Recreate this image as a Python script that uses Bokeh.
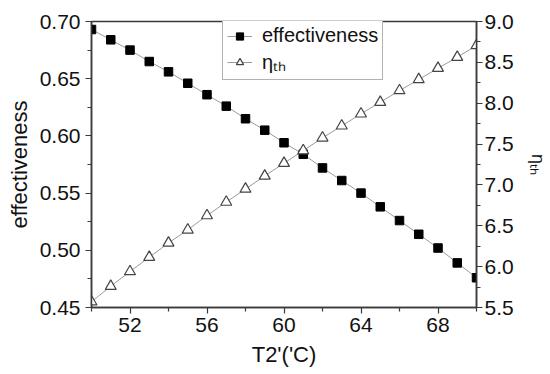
from bokeh.plotting import figure
from bokeh.models import Range1d, LinearAxis, FixedTicker, Legend, LegendItem
from bokeh.embed import file_html
from bokeh.resources import INLINE

# ---- data ----
temps = [50, 51, 52, 53, 54, 55, 56, 57, 58, 59, 60,
         61, 62, 63, 64, 65, 66, 67, 68, 69, 70]
effectiveness = [0.693, 0.684, 0.675, 0.665, 0.656, 0.646, 0.636, 0.626, 0.615, 0.605, 0.594,
                 0.584, 0.572, 0.561, 0.550, 0.538, 0.526, 0.514, 0.502, 0.489, 0.476]
eta_th = [5.57, 5.76, 5.94, 6.115, 6.29, 6.45, 6.625, 6.79, 6.95, 7.11, 7.266,
          7.42, 7.576, 7.723, 7.87, 8.012, 8.155, 8.29, 8.428, 8.563, 8.706]
x_major = [52, 56, 60, 64, 68]
x_minor = [50, 54, 58, 62, 66, 70]
y_left_major = [0.45, 0.50, 0.55, 0.60, 0.65, 0.70]
y_left_minor = [0.475, 0.525, 0.575, 0.625, 0.675]
y_right_major = [5.5, 6.0, 6.5, 7.0, 7.5, 8.0, 8.5, 9.0]
y_right_minor = [5.75, 6.25, 6.75, 7.25, 7.75, 8.25, 8.75]

FONT = "Liberation Sans"
AX = "#3a3a3a"

p = figure(width=550, height=374, output_backend="svg", toolbar_location=None,
           x_range=Range1d(50, 70), y_range=Range1d(0.45, 0.70),
           min_border_left=91, min_border_right=71, min_border_top=21, min_border_bottom=67)
p.extra_y_ranges = {"eta": Range1d(5.5, 9.0)}
p.xgrid.visible = False
p.ygrid.visible = False
p.outline_line_color = AX
p.outline_line_width = 1.5
p.background_fill_color = "white"
p.border_fill_color = "white"

def style_axis(ax, major, minor):
    ax.ticker = FixedTicker(ticks=major, minor_ticks=minor)
    ax.axis_line_color = AX
    ax.axis_line_width = 1.5
    ax.major_tick_line_color = AX
    ax.minor_tick_line_color = AX
    ax.major_tick_line_width = 1.2
    ax.minor_tick_line_width = 1.2
    ax.major_tick_in = 0
    ax.major_tick_out = 6
    ax.minor_tick_in = 0
    ax.minor_tick_out = 4
    ax.major_label_text_font = FONT
    ax.major_label_text_font_size = "21px"
    ax.major_label_text_color = "#111111"
    ax.axis_label_text_font = FONT
    ax.axis_label_text_font_style = "normal"
    ax.axis_label_text_color = "#111111"

xa = p.xaxis[0]
style_axis(xa, x_major, x_minor)
xa.axis_label = "T2'('C)"
xa.axis_label_text_font_size = "22px"
xa.axis_label_standoff = 7
xa.major_label_standoff = 4
xa.major_label_overrides = {t: str(t) for t in x_major}

ya = p.yaxis[0]
style_axis(ya, y_left_major, y_left_minor)
ya.axis_label = "effectiveness"
ya.axis_label_text_font_size = "22px"
ya.axis_label_standoff = 5
ya.major_label_standoff = 5
ya.major_label_overrides = {t: f"{t:.2f}" for t in y_left_major}

ra = LinearAxis(y_range_name="eta")
style_axis(ra, y_right_major, y_right_minor)
ra.axis_label = "ηₜₕ"
ra.axis_label_text_font_size = "18px"
ra.axis_label_standoff = 11
ra.major_label_standoff = 2
ra.major_label_overrides = {t: f"{t:.1f}" for t in y_right_major}
p.add_layout(ra, "right")

# effectiveness series
l1 = p.line(temps, effectiveness, line_color="#9a9a9a", line_width=1)
s1 = p.scatter(temps, effectiveness, marker="square", size=8.5,
               fill_color="black", line_color="black")
# eta series
l2 = p.line(temps, eta_th, y_range_name="eta", line_color="#9a9a9a", line_width=1)
s2 = p.scatter(temps, eta_th, y_range_name="eta", marker="triangle", size=11,
               fill_color="white", line_color="#444444", line_width=1.2)

legend = Legend(items=[LegendItem(label="effectiveness", renderers=[l1, s1]),
                       LegendItem(label="ηₜₕ", renderers=[l2, s2])],
                location=(131, 227))
legend.label_text_font = FONT
legend.label_text_font_size = "20px"
legend.label_text_color = "#111111"
legend.border_line_color = "#666666"
legend.border_line_width = 1.2
legend.background_fill_alpha = 1.0
legend.glyph_width = 25
legend.glyph_height = 18
legend.label_standoff = 10
legend.padding = 4
legend.spacing = 1
legend.margin = 0
legend.label_height = 18
p.add_layout(legend, "center")

open("out.html", "w").write(file_html(p, INLINE))
